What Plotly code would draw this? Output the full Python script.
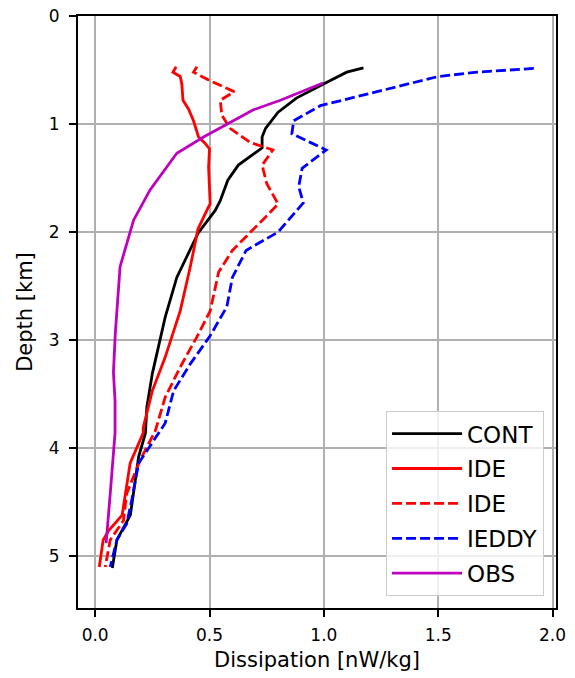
import plotly.graph_objects as go

# ---- data ----
cont_x = [1.173, 1.10, 1.007, 0.88, 0.80, 0.745, 0.73, 0.73, 0.626, 0.58, 0.547, 0.525, 0.45, 0.357, 0.306, 0.25, 0.226, 0.22, 0.19, 0.168, 0.154, 0.095, 0.075]
cont_y = [0.48, 0.52, 0.62, 0.76, 0.89, 1.04, 1.12, 1.22, 1.38, 1.52, 1.71, 1.80, 2.01, 2.42, 2.79, 3.31, 3.62, 3.86, 4.08, 4.39, 4.62, 4.85, 5.11]

ide_x = [0.354, 0.34, 0.372, 0.379, 0.384, 0.408, 0.43, 0.452, 0.481, 0.50, 0.496, 0.503, 0.495, 0.45, 0.415, 0.372, 0.306, 0.25, 0.21, 0.21, 0.153, 0.118, 0.06, 0.035, 0.018]
ide_y = [0.47, 0.52, 0.56, 0.63, 0.78, 0.86, 0.97, 1.12, 1.18, 1.23, 1.40, 1.74, 1.77, 1.97, 2.33, 2.73, 3.16, 3.47, 3.81, 3.86, 4.14, 4.62, 4.76, 4.85, 5.10]

ide2_x = [0.445, 0.43, 0.503, 0.608, 0.547, 0.554, 0.59, 0.678, 0.777, 0.73, 0.75, 0.80, 0.75, 0.60, 0.54, 0.503, 0.445, 0.372, 0.306, 0.263, 0.197, 0.138, 0.124, 0.066, 0.044]
ide2_y = [0.47, 0.52, 0.60, 0.70, 0.78, 0.92, 1.04, 1.17, 1.24, 1.38, 1.55, 1.74, 1.85, 2.17, 2.37, 2.73, 2.97, 3.25, 3.53, 3.84, 4.11, 4.42, 4.67, 4.85, 5.10]

ieddy_x = [1.918, 1.67, 1.50, 1.247, 0.985, 0.868, 0.86, 0.94, 1.01, 0.905, 0.89, 0.91, 0.80, 0.66, 0.60, 0.576, 0.503, 0.416, 0.343, 0.306, 0.233, 0.19, 0.16, 0.138, 0.095, 0.066]
ieddy_y = [0.485, 0.52, 0.56, 0.69, 0.83, 0.97, 1.09, 1.17, 1.24, 1.41, 1.58, 1.73, 2.00, 2.17, 2.42, 2.69, 2.96, 3.22, 3.47, 3.77, 4.00, 4.14, 4.48, 4.70, 4.85, 5.10]

obs_x = [0.996, 0.81, 0.69, 0.576, 0.474, 0.357, 0.24, 0.168, 0.109, 0.088, 0.08, 0.087, 0.087, 0.066, 0.048]
obs_y = [0.62, 0.78, 0.87, 1.00, 1.12, 1.27, 1.61, 1.89, 2.32, 2.94, 3.30, 3.56, 3.86, 4.42, 4.88]

x_ticks = [0.0, 0.5, 1.0, 1.5, 2.0]
x_ticklabels = ["0.0", "0.5", "1.0", "1.5", "2.0"]
y_ticks = [0, 1, 2, 3, 4, 5]

series = [
    ("CONT", cont_x, cont_y, "#000000", "solid"),
    ("IDE", ide_x, ide_y, "#ff0000", "solid"),
    ("IDE", ide2_x, ide2_y, "#ff0000", "10px,4px"),
    ("IEDDY", ieddy_x, ieddy_y, "#0000ff", "10px,4px"),
    ("OBS", obs_x, obs_y, "#bf00bf", "solid"),
]

fig = go.Figure()
for i, (name, xs, ys, col, dash) in enumerate(series):
    fig.add_trace(go.Scatter(x=xs, y=ys, mode="lines", name=name,
                             legendgroup=f"g{i}",
                             line=dict(color=col, width=2.8, dash=dash)))

font = "DejaVu Sans"
axis_common = dict(showline=True, mirror=True, linecolor="black", linewidth=2,
                   ticks="outside", ticklen=7, tickwidth=2, tickcolor="black",
                   showgrid=True, gridcolor="#b0b0b0", gridwidth=2, automargin=False,
                   zeroline=False, tickfont=dict(family=font, size=17, color="black"))

fig.update_layout(
    width=575, height=678,
    margin=dict(l=78, r=19, t=16, b=70),
    plot_bgcolor="white", paper_bgcolor="white",
    font=dict(family=font, color="black"),
    xaxis=dict(range=[-0.075, 2.015], tickvals=x_ticks, ticktext=x_ticklabels,
               ticklabelstandoff=4,
               title=dict(text="Dissipation [nW/kg]", font=dict(family=font, size=21), standoff=8),
               **axis_common),
    yaxis=dict(range=[5.48, 0], tickvals=y_ticks, ticklabelstandoff=6,
               title=dict(text="Depth [km]", font=dict(family=font, size=21), standoff=10),
               **axis_common),
    legend=dict(x=0.975, y=0.02, xanchor="right", yanchor="bottom",
                bgcolor="rgba(255,255,255,0.8)", bordercolor="#cccccc", borderwidth=1,
                font=dict(family=font, size=23), itemwidth=70, tracegroupgap=2,
                traceorder="grouped"),
    showlegend=True,
)

fig.write_html("out.html")
